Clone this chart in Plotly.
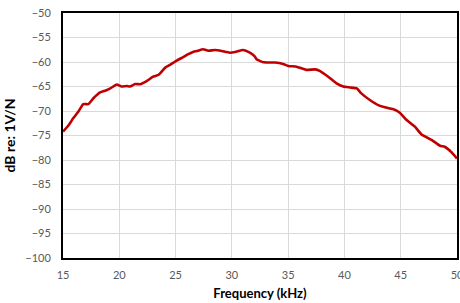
import plotly.graph_objects as go

freq_khz = [15.0, 15.5, 15.9, 16.4, 16.8, 17.25, 17.7, 18.3, 18.8, 19.2, 19.77, 20.2, 20.66, 20.95,
            21.4, 21.84, 22.43, 23.0, 23.5, 24.06, 24.5, 25.1, 25.6, 26.13, 26.5, 26.9, 27.46, 27.9,
            28.5, 29.1, 29.8, 30.3, 31.0, 31.6, 32.05, 32.2, 32.8, 33.83, 34.56, 35.0, 35.75, 36.6,
            37.4, 37.8, 38.56, 39.3, 39.9, 40.5, 41.1, 41.5, 42.26, 43.0, 43.6, 44.3, 44.9, 45.5,
            46.26, 46.85, 47.74, 48.5, 48.9, 49.5, 50.0]
db_re_1v_per_n = [-74.2, -72.9, -71.5, -70.0, -68.6, -68.6, -67.4, -66.2, -65.8, -65.4, -64.6, -65.0,
                  -64.9, -65.0, -64.5, -64.55, -63.9, -63.0, -62.6, -61.2, -60.6, -59.7, -59.1, -58.4,
                  -58.0, -57.76, -57.4, -57.7, -57.55, -57.76, -58.1, -57.96, -57.55, -58.1, -58.9,
                  -59.45, -60.07, -60.1, -60.4, -60.8, -60.95, -61.6, -61.5, -61.8, -63.0, -64.35,
                  -65.0, -65.2, -65.4, -66.4, -67.76, -68.8, -69.25, -69.6, -70.3, -71.8, -73.2,
                  -74.8, -75.9, -77.1, -77.3, -78.4, -79.7]

x_ticks = [15, 20, 25, 30, 35, 40, 45, 50]
y_ticks = [-100, -95, -90, -85, -80, -75, -70, -65, -60, -55, -50]

fig = go.Figure()
fig.add_trace(go.Scatter(x=freq_khz, y=db_re_1v_per_n, mode="lines",
                         line=dict(color="#C00000", width=2.6, shape="spline", smoothing=0.4),
                         showlegend=False, cliponaxis=True))

font_family = "Lato, Liberation Sans, sans-serif"
fig.update_layout(
    width=460, height=303,
    margin=dict(l=63, r=3, t=13, b=45, autoexpand=False),
    paper_bgcolor="white", plot_bgcolor="white",
    font=dict(family=font_family, size=11, color="#595959"),
    xaxis=dict(range=[15, 50], tickvals=x_ticks, showgrid=True, gridcolor="#d9d9d9", gridwidth=1,
               showline=True, linecolor="black", linewidth=2, mirror=True, ticks="",
               zeroline=False, ticklabelstandoff=6, automargin=False, ticklabeloverflow="allow",
               title=dict(text="<b>Frequency (kHz)</b>", font=dict(size=13, color="black"), standoff=9)),
    yaxis=dict(range=[-100, -50], tickvals=y_ticks, showgrid=True, gridcolor="#d9d9d9", gridwidth=1,
               showline=True, linecolor="black", linewidth=2, mirror=True, ticks="",
               zeroline=False, ticklabelstandoff=8, automargin=False, ticklabeloverflow="allow",
               title=dict(text="<b>dB re: 1V/N</b>", font=dict(size=14, color="black"), standoff=6)),
)

fig.write_html("out.html", config={"displayModeBar": False},
               post_script="document.body.style.margin='0';document.body.style.overflow='hidden';")
